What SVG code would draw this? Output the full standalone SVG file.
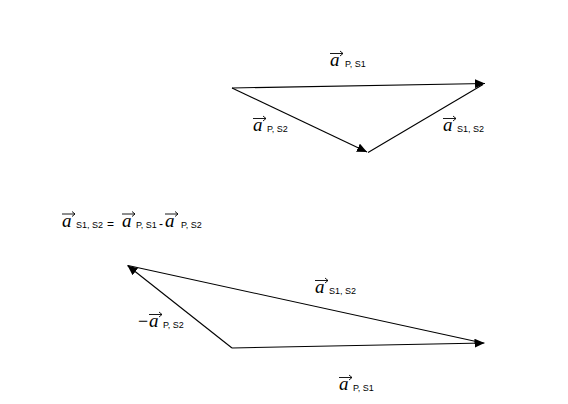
<svg xmlns="http://www.w3.org/2000/svg" width="568" height="404" viewBox="0 0 568 404">
<style>
.ln{stroke:#000;stroke-width:1.1;fill:none}
.va{font-family:"Liberation Serif","Times New Roman",serif;font-style:italic;font-size:19px;fill:#000}
.sb{font-family:"Liberation Sans",Arial,sans-serif;font-size:9px;fill:#000}
.op{font-family:"Liberation Sans",Arial,sans-serif;font-size:12px;fill:#000}
.mn{font-family:"Liberation Serif","Times New Roman",serif;font-size:18px;fill:#000}
.vec{stroke:#000;stroke-width:0.9;fill:none}
</style>
<defs>
<marker id="ah" viewBox="0 0 10 9" refX="10" refY="4.5" markerWidth="10" markerHeight="9" markerUnits="userSpaceOnUse" orient="auto">
<path d="M0,0 L10,4.5 L0,9 z" fill="#000"/>
</marker>
</defs>
<rect width="568" height="404" fill="#fff"/>
<g id="connectors">
<line class="ln" x1="232" y1="88" x2="485" y2="83.5" marker-end="url(#ah)"/>
<line class="ln" x1="232" y1="88" x2="367" y2="152" marker-end="url(#ah)"/>
<line class="ln" x1="368" y1="152.5" x2="483" y2="84.5"/>
<line class="ln" x1="232" y1="348" x2="484.5" y2="343" marker-end="url(#ah)"/>
<line class="ln" x1="232" y1="348" x2="127.5" y2="265.5" marker-end="url(#ah)"/>
<line class="ln" x1="483" y1="343" x2="128" y2="265.5"/>
</g>
<g id="label-aPS1-top">
<path class="vec" d="M330,53.5 H343 M340,51 L343,53.5 L340,56"/>
<text class="va" x="330" y="66">a</text>
<text class="sb" x="345" y="67">P, S1</text>
</g>
<g id="label-aPS2-top">
<path class="vec" d="M253,118.5 H266 M263,116 L266,118.5 L263,121"/>
<text class="va" x="253" y="131">a</text>
<text class="sb" x="267" y="132">P, S2</text>
</g>
<g id="label-aS1S2-top">
<path class="vec" d="M443,118.5 H456 M453,116 L456,118.5 L453,121"/>
<text class="va" x="443" y="131">a</text>
<text class="sb" x="457" y="132">S1, S2</text>
</g>
<g id="formula">
<path class="vec" d="M62,214 H75 M72,211.5 L75,214 L72,216.5"/>
<text class="va" x="62" y="226.5">a</text>
<text class="sb" x="76" y="228">S1, S2</text>
<text class="op" x="107" y="228">=</text>
<path class="vec" d="M122,214 H135 M132,211.5 L135,214 L132,216.5"/>
<text class="va" x="122" y="226.5">a</text>
<text class="sb" x="136" y="228">P, S1</text>
<text class="op" x="159" y="228">-</text>
<path class="vec" d="M165,214 H178 M175,211.5 L178,214 L175,216.5"/>
<text class="va" x="165" y="226.5">a</text>
<text class="sb" x="181" y="228">P, S2</text>
</g>
<g id="label-aS1S2-bottom">
<path class="vec" d="M315,280.5 H328 M325,278 L328,280.5 L325,283"/>
<text class="va" x="315" y="293">a</text>
<text class="sb" x="329" y="294">S1, S2</text>
</g>
<g id="label-minus-aPS2">
<path class="vec" d="M149,314.5 H162 M159,312 L162,314.5 L159,317"/>
<text class="mn" x="138" y="327">−</text>
<text class="va" x="149" y="327">a</text>
<text class="sb" x="163" y="328">P, S2</text>
</g>
<g id="label-aPS1-bottom">
<path class="vec" d="M339,377.5 H352 M349,375 L352,377.5 L349,380"/>
<text class="va" x="339" y="390">a</text>
<text class="sb" x="353" y="391">P, S1</text>
</g>
</svg>
